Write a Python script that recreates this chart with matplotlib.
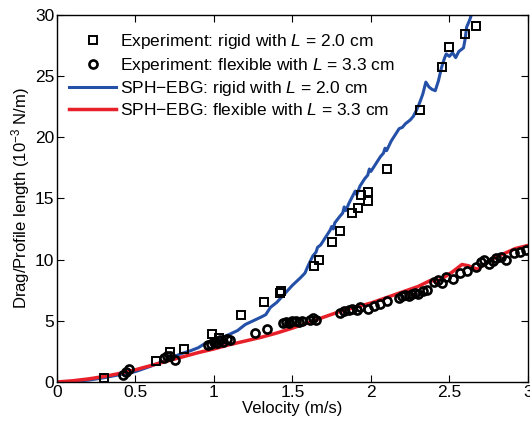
import matplotlib
matplotlib.use("Agg")
import matplotlib.pyplot as plt

plt.rcParams['font.family'] = ['Liberation Sans', 'DejaVu Sans']
plt.rcParams['mathtext.fontset'] = 'custom'
plt.rcParams['mathtext.it'] = 'Liberation Sans:italic'
plt.rcParams['mathtext.rm'] = 'Liberation Sans'

# experiment: rigid, L = 2.0 cm
rigid_v = [0.30, 0.63, 0.72, 0.81, 0.99, 1.03, 1.17, 1.32, 1.42, 1.43, 1.64, 1.67, 1.75,
           1.80, 1.88, 1.92, 1.94, 1.98, 1.98, 2.10, 2.31, 2.45, 2.50, 2.60, 2.67]
rigid_d = [0.35, 1.7, 2.45, 2.7, 3.9, 3.6, 5.5, 6.5, 7.3, 7.4, 9.5, 10.0, 11.4,
           12.3, 13.8, 14.2, 15.3, 15.5, 14.8, 17.4, 22.2, 25.7, 27.4, 28.4, 29.1]

# experiment: flexible, L = 3.3 cm
flex_v = [0.42, 0.44, 0.46, 0.68, 0.70, 0.72, 0.75, 0.96, 0.98, 1.00, 1.02, 1.04, 1.06,
          1.08, 1.10, 1.26, 1.34, 1.44, 1.46, 1.48, 1.50, 1.52, 1.54, 1.56, 1.61, 1.63,
          1.65, 1.80, 1.83, 1.86, 1.88, 1.91, 1.93, 1.98, 2.02, 2.06, 2.10, 2.18, 2.20,
          2.22, 2.24, 2.26, 2.28, 2.30, 2.33, 2.36, 2.40, 2.43, 2.45, 2.48, 2.52, 2.57,
          2.61, 2.67, 2.70, 2.72, 2.75, 2.78, 2.80, 2.83, 2.86, 2.91, 2.95, 2.99]
flex_d = [0.6, 0.8, 1.05, 2.0, 2.15, 2.1, 1.8, 3.0, 3.1, 3.3, 3.2, 3.4, 3.3,
          3.5, 3.4, 4.0, 4.3, 4.8, 4.9, 4.85, 4.95, 5.0, 4.9, 5.0, 5.1, 5.2,
          5.1, 5.6, 5.8, 5.9, 6.0, 5.9, 6.1, 6.0, 6.2, 6.4, 6.6, 6.9, 7.0,
          7.1, 7.0, 7.2, 7.3, 7.2, 7.4, 7.5, 8.2, 8.3, 8.1, 8.6, 8.4, 8.9,
          9.1, 9.4, 9.8, 10.0, 9.6, 9.9, 10.1, 10.2, 10.0, 10.5, 10.6, 10.8]

# SPH-EBG: rigid
sph_rigid_v = [0, 0.1, 0.2, 0.3, 0.4, 0.5, 0.6, 0.7, 0.75, 0.8, 0.85, 0.9, 0.95, 1.0,
               1.05, 1.1, 1.15, 1.2, 1.25, 1.3, 1.33, 1.36, 1.4, 1.45, 1.5, 1.55, 1.58,
               1.6, 1.63, 1.65, 1.66, 1.68, 1.70, 1.72, 1.74, 1.75, 1.76, 1.77, 1.80,
               1.82, 1.83, 1.84, 1.86, 1.88, 1.90, 1.91, 1.93, 1.96, 1.98, 1.99, 2.00,
               2.03, 2.06, 2.08, 2.09, 2.10, 2.13, 2.16, 2.18, 2.20, 2.22, 2.25, 2.27,
               2.29, 2.31, 2.33, 2.35, 2.37, 2.39, 2.41, 2.43, 2.45, 2.47, 2.48, 2.50,
               2.52, 2.54, 2.56, 2.59, 2.60, 2.61, 2.63, 2.645]
sph_rigid_d = [0, 0.05, 0.15, 0.35, 0.6, 0.85, 1.3, 1.8, 2.1, 2.35, 2.55, 2.8, 3.2, 3.4,
               3.6, 3.9, 4.2, 4.7, 5.0, 5.3, 5.5, 6.1, 6.5, 7.2, 7.9, 8.5, 8.9,
               9.5, 10.3, 10.6, 11.0, 11.2, 11.6, 12.0, 12.4, 12.7, 12.5, 13.0, 13.5,
               13.8, 14.3, 14.0, 14.6, 15.1, 15.6, 15.3, 16.0, 16.6, 16.9, 17.4, 17.2,
               17.8, 18.4, 18.7, 19.1, 18.9, 19.7, 20.3, 20.7, 20.8, 21.1, 21.4, 21.7,
               22.2, 22.8, 23.5, 24.5, 24.1, 23.9, 23.8, 24.6, 25.7, 26.5, 26.8, 26.6,
               26.9, 26.5, 27.0, 27.3, 28.0, 29.0, 29.6, 30.2]

# SPH-EBG: flexible
sph_flex_v = [0, 0.1, 0.2, 0.3, 0.4, 0.5, 0.6, 0.7, 0.8, 0.9, 1.0, 1.1, 1.2, 1.3, 1.4,
              1.5, 1.6, 1.7, 1.8, 1.9, 2.0, 2.1, 2.2, 2.3, 2.38, 2.42, 2.46, 2.52, 2.58,
              2.62, 2.68, 2.72, 2.78, 2.85, 2.92, 3.0]
sph_flex_d = [0, 0.1, 0.25, 0.45, 0.7, 1.0, 1.35, 1.7, 2.05, 2.4, 2.7, 3.05, 3.35, 3.65, 4.0,
              4.4, 4.85, 5.3, 5.75, 6.1, 6.45, 6.9, 7.35, 7.8, 8.3, 8.2, 8.5, 9.0, 9.6,
              9.5, 9.2, 9.6, 10.1, 10.5, 10.9, 11.15]

fig = plt.figure(figsize=(5.3, 4.26), dpi=100)
ax = fig.add_axes([0.1075, 0.1033, 0.8885, 0.862])

ax.plot(rigid_v, rigid_d, 's', ms=5.2, mfc='none', mec='black', mew=1.4,
        label='Experiment: rigid with $\\mathit{L}$ = 2.0 cm', zorder=3)
ax.plot(flex_v, flex_d, 'o', ms=5.8, mfc='none', mec='black', mew=1.9,
        label='Experiment: flexible with $\\mathit{L}$ = 3.3 cm', zorder=3)
ax.plot(sph_rigid_v, sph_rigid_d, '-', color='#2450a8', lw=2.2,
        label='SPH\u2212EBG: rigid with $\\mathit{L}$ = 2.0 cm', zorder=2)
ax.plot(sph_flex_v, sph_flex_d, '-', color='#e8202a', lw=2.5,
        label='SPH\u2212EBG: flexible with $\\mathit{L}$ = 3.3 cm', zorder=2)

ax.set_xlim(0, 3)
ax.set_ylim(0, 30)
ax.set_xticks([0, 0.5, 1, 1.5, 2, 2.5, 3])
ax.set_xticklabels(['0', '0.5', '1', '1.5', '2', '2.5', '3'])
ax.set_yticks([0, 5, 10, 15, 20, 25, 30])
ax.tick_params(direction='in', top=True, right=True, labelsize=12.5, length=5, pad=2)
for s in ax.spines.values():
    s.set_linewidth(1.0)

ax.set_xlabel('Velocity (m/s)', fontsize=12, labelpad=1)
ax.set_ylabel('Drag/Profile length (10$^{-3}$ N/m)', fontsize=12, labelpad=2)

ax.legend(loc='upper left', frameon=False, fontsize=12.5, handlelength=2.7,
          handletextpad=0.25, labelspacing=0.25, borderaxespad=0.3,
          bbox_to_anchor=(0.0, 0.985))

fig.savefig('out.png', dpi=100)
